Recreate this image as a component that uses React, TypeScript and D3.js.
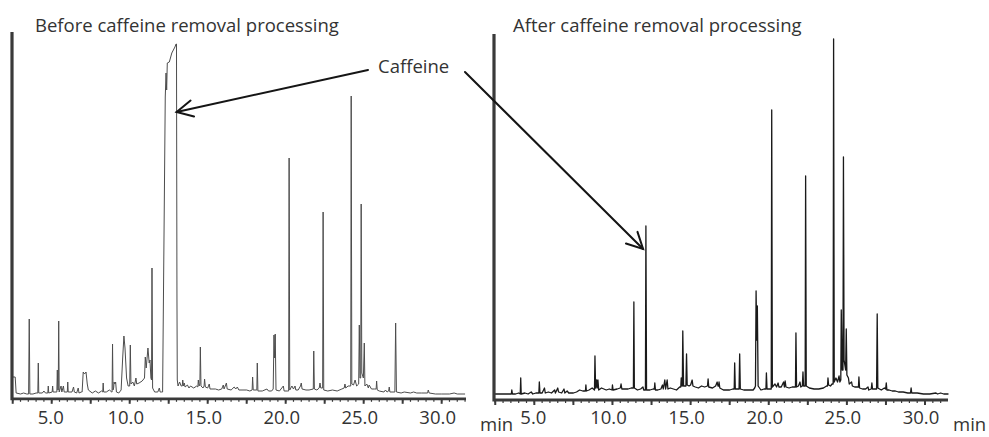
import React from "react";
import * as d3 from "d3";

// ---------- data ----------
const panelTitles = ["Before caffeine removal processing", "After caffeine removal processing"];
const annotationLabel = "Caffeine";
const unitLabel = "min";
const labeledTicks = [5, 10, 15, 20, 25, 30];
const tickLabels = ["5.0", "10.0", "15.0", "20.0", "25.0", "30.0"];
const majorTicks = [2.5, 5, 7.5, 10, 12.5, 15, 17.5, 20, 22.5, 25, 27.5, 30];

// [retention time (min), detector response (a.u.)]
const beforeTrace: [number, number][] = [
  [2.45, 21], [2.66, 21], [2.72, 5], [3.0, 4], [3.2, 5], [3.4, 4],
  [3.52, 4], [3.56, 79], [3.6, 4], [3.8, 4], [4.0, 5],
  [4.11, 5], [4.14, 35], [4.17, 5], [4.4, 5], [4.5, 7], [4.6, 5],
  [4.75, 5], [4.78, 12], [4.81, 5], [5.03, 6], [5.06, 12], [5.09, 6],
  [5.33, 6], [5.36, 28], [5.39, 8], [5.42, 8], [5.45, 77], [5.48, 6],
  [5.6, 12], [5.65, 6], [5.75, 12], [5.8, 6], [6.0, 6], [6.03, 16], [6.06, 6],
  [6.3, 6], [6.4, 11], [6.45, 6], [6.6, 5], [6.7, 10], [6.75, 5], [6.9, 6],
  [6.95, 6], [7.02, 26], [7.1, 24], [7.2, 26], [7.28, 14], [7.35, 8],
  [7.6, 5], [7.8, 7], [8.0, 5], [8.2, 7], [8.27, 6], [8.3, 15], [8.33, 6],
  [8.5, 6], [8.7, 8], [8.85, 6], [8.87, 6], [8.9, 54], [8.93, 8],
  [8.97, 10], [9.0, 16], [9.05, 14], [9.1, 16], [9.15, 6], [9.3, 5],
  [9.45, 8], [9.55, 40], [9.63, 62], [9.7, 50], [9.8, 20], [9.9, 12],
  [10.0, 12], [10.04, 53], [10.08, 14], [10.2, 16], [10.3, 12], [10.4, 20], [10.45, 14],
  [10.6, 15], [10.8, 17], [10.95, 20], [11.0, 41], [11.06, 30], [11.17, 50],
  [11.25, 35], [11.3, 38], [11.36, 20], [11.4, 18], [11.43, 130], [11.47, 10],
  [11.6, 6], [11.8, 6], [11.9, 10], [11.95, 6], [12.05, 6],
  [12.11, 6], [12.28, 301], [12.33, 325], [12.37, 308], [12.41, 335], [12.54, 336],
  [12.63, 341], [12.7, 345], [12.8, 348], [12.9, 351], [12.97, 354], [13.0, 354],
  [13.03, 100], [13.05, 18],
  [13.1, 12], [13.2, 16], [13.3, 12], [13.37, 12], [13.4, 18], [13.45, 12], [13.5, 15],
  [13.55, 11], [13.7, 13], [13.8, 10], [13.9, 12], [14.1, 10], [14.3, 12],
  [14.37, 11], [14.4, 18], [14.45, 12], [14.5, 14], [14.53, 51], [14.57, 12],
  [14.7, 10], [14.77, 12], [14.8, 19], [14.85, 11], [15.0, 10], [15.1, 14], [15.15, 9],
  [15.5, 9], [15.7, 8], [15.9, 9], [16.0, 13], [16.05, 9], [16.2, 15], [16.25, 9],
  [16.5, 8], [16.7, 11], [16.8, 9], [16.9, 11], [17.0, 8], [17.2, 8], [17.5, 8], [17.7, 7],
  [17.85, 8], [17.88, 21], [17.92, 8], [18.15, 8], [18.18, 35], [18.22, 7],
  [18.5, 7], [18.8, 9], [18.9, 7], [19.1, 7],
  [19.2, 9], [19.25, 63], [19.29, 40], [19.33, 64], [19.38, 8],
  [19.6, 7], [19.85, 12], [19.9, 7], [20.1, 7],
  [20.19, 7], [20.22, 240], [20.26, 8],
  [20.4, 12], [20.5, 9], [20.6, 12], [20.65, 8], [20.8, 8], [20.95, 12], [21.0, 15],
  [21.05, 9], [21.3, 8], [21.5, 8], [21.77, 9], [21.8, 47], [21.84, 9],
  [22.0, 8], [22.15, 10], [22.2, 15], [22.25, 10], [22.37, 10], [22.4, 186], [22.44, 8],
  [22.7, 7], [23.0, 8], [23.3, 7], [23.6, 9], [23.75, 10], [23.8, 14], [23.85, 10], [24.0, 12],
  [24.17, 12], [24.2, 302], [24.24, 14], [24.35, 13], [24.45, 18], [24.55, 12],
  [24.68, 14], [24.72, 73], [24.76, 20], [24.81, 20], [24.84, 194], [24.88, 25],
  [24.98, 20], [25.04, 55], [25.08, 12], [25.2, 14], [25.3, 10], [25.35, 13],
  [25.5, 9], [25.7, 9], [25.8, 9], [25.83, 17], [25.87, 8],
  [26.0, 7], [26.3, 6], [26.4, 8], [26.5, 6], [26.6, 7], [26.64, 11], [26.68, 6],
  [27.0, 6], [27.05, 75], [27.1, 6],
  [27.4, 5], [27.6, 6], [28.0, 5], [28.2, 6], [28.4, 5], [28.7, 5],
  [29.1, 5], [29.14, 8], [29.2, 5], [29.6, 4], [30.0, 4], [30.5, 4], [30.8, 5], [31.0, 4], [31.5, 4],
];

const afterTrace: [number, number][] = [
  [2.45, 6], [3.0, 6], [3.3, 6], [3.53, 6], [3.56, 10], [3.6, 6], [3.8, 6], [4.0, 7],
  [4.1, 6], [4.13, 22], [4.16, 6], [4.4, 7], [4.6, 6], [4.8, 8], [4.9, 6], [5.1, 7],
  [5.29, 7], [5.32, 18], [5.36, 7], [5.5, 7], [5.65, 12], [5.7, 7], [5.9, 8], [6.1, 7],
  [6.3, 10], [6.35, 7], [6.5, 12], [6.55, 8], [6.75, 7], [6.9, 11], [6.95, 7],
  [7.1, 9], [7.2, 7], [7.5, 7], [7.7, 8], [7.9, 10], [8.1, 9],
  [8.27, 9], [8.3, 15], [8.33, 9], [8.5, 10], [8.7, 12],
  [8.85, 10], [8.88, 44], [8.92, 12], [8.98, 20], [9.02, 12], [9.07, 20], [9.12, 10], [9.3, 12],
  [9.6, 10], [9.8, 11], [9.97, 10], [10.0, 15], [10.04, 10], [10.3, 11], [10.5, 12],
  [10.55, 16], [10.6, 11], [10.8, 11], [11.0, 11], [11.2, 12],
  [11.34, 12], [11.37, 98], [11.4, 12], [11.6, 10], [11.8, 11], [11.95, 13], [12.0, 10],
  [12.11, 10], [12.14, 174], [12.18, 10], [12.4, 10], [12.6, 11],
  [12.68, 11], [12.71, 17], [12.75, 10], [12.9, 10], [13.1, 11], [13.2, 15], [13.25, 11],
  [13.35, 20], [13.4, 11], [13.5, 20], [13.55, 11], [13.7, 12], [13.9, 11], [14.1, 10], [14.3, 13],
  [14.37, 13], [14.4, 22], [14.45, 14], [14.47, 14], [14.5, 69], [14.55, 14],
  [14.7, 14], [14.74, 46], [14.78, 15], [14.9, 14], [15.0, 15], [15.1, 20], [15.15, 14],
  [15.3, 13], [15.5, 12], [15.7, 14], [15.9, 13],
  [16.08, 14], [16.12, 21], [16.16, 13], [16.4, 12], [16.6, 14], [16.7, 18], [16.75, 14],
  [16.8, 14], [16.82, 18], [16.87, 12], [17.1, 10], [17.3, 10], [17.5, 10], [17.7, 11],
  [17.79, 11], [17.82, 37], [17.86, 11], [18.1, 11], [18.14, 46], [18.18, 11],
  [18.4, 10], [18.6, 10], [18.8, 10], [19.0, 10], [19.1, 12],
  [19.15, 14], [19.19, 109], [19.23, 60], [19.27, 94], [19.32, 14],
  [19.5, 10], [19.7, 11], [19.82, 11], [19.85, 27], [19.89, 11], [20.0, 11],
  [20.16, 11], [20.19, 290], [20.23, 13],
  [20.4, 16], [20.5, 13], [20.6, 17], [20.65, 13], [20.8, 13], [20.95, 18], [21.0, 13],
  [21.05, 19], [21.1, 13], [21.3, 12], [21.5, 13],
  [21.71, 13], [21.74, 67], [21.78, 13], [21.9, 14], [22.0, 18], [22.05, 13],
  [22.15, 14], [22.19, 28], [22.23, 14], [22.33, 14], [22.36, 224], [22.4, 14],
  [22.6, 12], [22.9, 11], [23.2, 11], [23.5, 12], [23.7, 14],
  [23.76, 14], [23.79, 22], [23.83, 15], [23.95, 14], [24.05, 16],
  [24.12, 16], [24.15, 361], [24.19, 18], [24.3, 22], [24.4, 18], [24.5, 24], [24.55, 18],
  [24.61, 20], [24.64, 90], [24.7, 30], [24.75, 30], [24.78, 243], [24.82, 40],
  [24.92, 30], [24.96, 71], [25.0, 25], [25.1, 22], [25.15, 16], [25.3, 18], [25.35, 14], [25.5, 13],
  [25.74, 13], [25.77, 23], [25.81, 12], [26.0, 11], [26.2, 11], [26.35, 13], [26.4, 10],
  [26.56, 11], [26.6, 17], [26.64, 11], [26.9, 11], [26.94, 86], [26.98, 12],
  [27.2, 10], [27.4, 12], [27.48, 11], [27.52, 17], [27.56, 10],
  [27.7, 10], [27.9, 9], [28.1, 9], [28.3, 8], [28.6, 8], [28.9, 7],
  [29.07, 7], [29.11, 12], [29.15, 7], [29.5, 7], [29.9, 6], [30.3, 6], [30.7, 7],
  [30.8, 6], [31.0, 7], [31.2, 6], [31.5, 6],
];

// caffeine annotation targets [time, response]
const beforeCaffeinePoint: [number, number] = [13.01, 286];
const afterCaffeinePoint: [number, number] = [11.96, 151];

// ---------- layout ----------
const W = 989;
const H = 437;
const FONT = "'Open Sans', 'Noto Sans', sans-serif";
const TEXT_COLOR = "#333";
const FS = 18.5;

type PanelCfg = {
  x0: number; x1: number; axisY: number; yTop: number;
  domain: [number, number]; baseY: number;
  title: string; titleX: number; titleY: number;
  trace: [number, number][]; stroke: string; strokeWidth: number;
};

const panels: PanelCfg[] = [
  {
    x0: 12, x1: 466, axisY: 398.8, yTop: 32, domain: [2.455, 31.56], baseY: 398,
    title: panelTitles[0], titleX: 35, titleY: 31.5,
    trace: beforeTrace, stroke: "#4d4d4d", strokeWidth: 1,
  },
  {
    x0: 494, x1: 948, axisY: 400, yTop: 34, domain: [2.42, 31.47], baseY: 400,
    title: panelTitles[1], titleX: 513, titleY: 32,
    trace: afterTrace, stroke: "#1a1a1a", strokeWidth: 1.3,
  },
];

function scalesFor(p: PanelCfg) {
  const x = d3.scaleLinear().domain(p.domain).range([p.x0, p.x1]);
  const y = d3.scaleLinear().domain([0, 360]).range([p.baseY, p.baseY - 360]);
  return { x, y };
}

function Panel({ p }: { p: PanelCfg }) {
  const { x, y } = scalesFor(p);
  const line = d3.line<[number, number]>().x((d) => x(d[0])).y((d) => y(d[1]));
  const minor = d3.range(2.5, p.domain[1] + 0.001, 0.5);
  return (
    <g>
      <text x={p.titleX} y={p.titleY} fontFamily={FONT} fontSize={FS} fill={TEXT_COLOR}>{p.title}</text>
      <path d={line(p.trace) || ""} fill="none" stroke={p.stroke} strokeWidth={p.strokeWidth} strokeLinejoin="round" />
      {minor.map((t) => (
        <line key={"m" + t} x1={x(t)} x2={x(t)} y1={p.axisY} y2={p.axisY + 3} stroke="#3a3a3a" strokeWidth={1.2} />
      ))}
      {majorTicks.map((t) => (
        <line key={"M" + t} x1={x(t)} x2={x(t)} y1={p.axisY} y2={p.axisY + 5} stroke="#3a3a3a" strokeWidth={2} />
      ))}
      <line x1={p.x0} x2={p.x1} y1={p.axisY} y2={p.axisY} stroke="#3a3a3a" strokeWidth={2.8} />
      <line x1={p.x0} x2={p.x0} y1={p.yTop} y2={p.axisY + 1.4} stroke="#3a3a3a" strokeWidth={3.2} />
      {labeledTicks.map((t, i) => (
        <text key={"l" + t} x={x(t) + (tickLabels[i].length > 3 ? -4 : -1)} y={424} textAnchor="middle"
          fontFamily={FONT} fontSize={FS} fill={TEXT_COLOR}>{tickLabels[i]}</text>
      ))}
    </g>
  );
}

function Arrow({ from, to }: { from: [number, number]; to: [number, number] }) {
  const ang = Math.atan2(from[1] - to[1], from[0] - to[0]);
  const len = 18;
  const spread = (27 * Math.PI) / 180;
  const a1: [number, number] = [to[0] + len * Math.cos(ang - spread), to[1] + len * Math.sin(ang - spread)];
  const a2: [number, number] = [to[0] + len * Math.cos(ang + spread), to[1] + len * Math.sin(ang + spread)];
  return (
    <g stroke="#151515" strokeWidth={2} fill="none" strokeLinecap="round">
      <line x1={from[0]} y1={from[1]} x2={to[0]} y2={to[1]} />
      <polyline points={`${a1[0]},${a1[1]} ${to[0]},${to[1]} ${a2[0]},${a2[1]}`} />
    </g>
  );
}

export default function App() {
  const s0 = scalesFor(panels[0]);
  const s1 = scalesFor(panels[1]);
  const tip0: [number, number] = [s0.x(beforeCaffeinePoint[0]), s0.y(beforeCaffeinePoint[1])];
  const tip1: [number, number] = [s1.x(afterCaffeinePoint[0]), s1.y(afterCaffeinePoint[1])];
  return (
    <svg width={W} height={H} style={{ position: "absolute", left: 0, top: 0, background: "#fff" }}>
      <rect width={W} height={H} fill="#fff" />
      {panels.map((p, i) => <Panel key={i} p={p} />)}
      <text x={378} y={73} fontFamily={FONT} fontSize={FS} fill={TEXT_COLOR}>{annotationLabel}</text>
      <Arrow from={[368, 70]} to={tip0} />
      <Arrow from={[465, 72]} to={tip1} />
      <text x={480} y={431} fontFamily={FONT} fontSize={FS} fill={TEXT_COLOR}>{unitLabel}</text>
      <text x={953} y={431} fontFamily={FONT} fontSize={FS} fill={TEXT_COLOR}>{unitLabel}</text>
    </svg>
  );
}
